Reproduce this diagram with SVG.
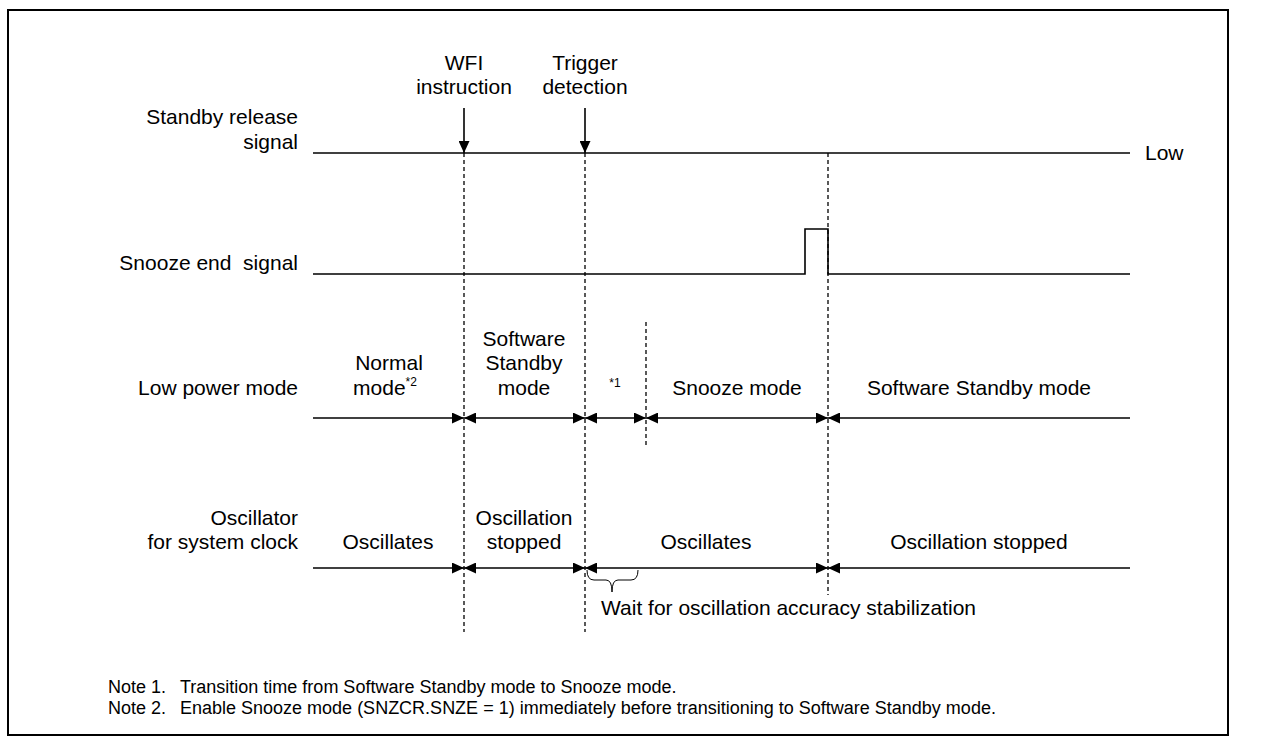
<svg xmlns="http://www.w3.org/2000/svg" width="1282" height="744" viewBox="0 0 1282 744">
<defs>
<style>
text{font-family:"Liberation Sans",Arial,sans-serif;fill:#000;white-space:pre;}
.t{font-size:21px;}
.n{font-size:18px;}
.s{font-size:12px;}
.m{text-anchor:middle;}
.e{text-anchor:end;}
.ln{stroke:#000;stroke-width:1.6;fill:none;}
.d{stroke:#000;stroke-width:1.3;stroke-dasharray:4,3;fill:none;}
</style>
<marker id="ah" viewBox="0 0 12 11" refX="12" refY="5.5" markerWidth="12" markerHeight="11" markerUnits="userSpaceOnUse" orient="auto-start-reverse">
<path d="M0,0 L12,5.5 L0,11 Z" fill="#000"/>
</marker>
</defs>
<rect x="8" y="10" width="1220" height="725" fill="#fff" stroke="#000" stroke-width="2"/>

<g id="labels">
<text class="t e" x="298" y="124">Standby release</text>
<text class="t e" x="298" y="149">signal</text>
<text class="t e" x="298" y="270" xml:space="preserve">Snooze end  signal</text>
<text class="t e" x="298" y="395">Low power mode</text>
<text class="t e" x="298" y="525">Oscillator</text>
<text class="t e" x="298" y="549">for system clock</text>
</g>

<g id="events">
<text class="t m" x="464" y="70">WFI</text>
<text class="t m" x="464" y="94">instruction</text>
<text class="t m" x="585" y="70">Trigger</text>
<text class="t m" x="585" y="94">detection</text>
</g>

<g id="standby-release">
<text class="t" x="1145" y="160">Low</text>
</g>

<g id="mode-labels">
<text class="t m" x="389" y="370">Normal</text>
<text class="t m" x="385" y="395">mode<tspan class="s" dy="-9">*2</tspan></text>
<text class="t m" x="524" y="346">Software</text>
<text class="t m" x="524" y="370">Standby</text>
<text class="t m" x="524" y="395">mode</text>
<text class="s m" x="615" y="387">*1</text>
<text class="t m" x="737" y="395">Snooze mode</text>
<text class="t m" x="979" y="395">Software Standby mode</text>
</g>

<g id="osc-labels">
<text class="t m" x="388" y="549">Oscillates</text>
<text class="t m" x="524" y="525">Oscillation</text>
<text class="t m" x="524" y="549">stopped</text>
<text class="t m" x="706" y="549">Oscillates</text>
<text class="t m" x="979" y="549">Oscillation stopped</text>
<text class="t" x="601" y="615">Wait for oscillation accuracy stabilization</text>
</g>

<g id="notes">
<text class="n" x="108" y="693">Note 1.</text>
<text class="n" x="180" y="693">Transition time from Software Standby mode to Snooze mode.</text>
<text class="n" x="108" y="714">Note 2.</text>
<text class="n" x="180" y="714">Enable Snooze mode (SNZCR.SNZE = 1) immediately before transitioning to Software Standby mode.</text>
</g>

<g id="connectors">
<line class="ln" x1="313" y1="153" x2="1130" y2="153"/>
<line class="ln" x1="464" y1="108" x2="464" y2="153" marker-end="url(#ah)"/>
<line class="ln" x1="585" y1="108" x2="585" y2="153" marker-end="url(#ah)"/>
<polyline class="ln" points="313,274 805,274 805,229 828,229 828,274 1130,274"/>
<line class="d" x1="464" y1="153" x2="464" y2="632"/>
<line class="d" x1="585" y1="153" x2="585" y2="632"/>
<line class="d" x1="828" y1="153" x2="828" y2="595"/>
<line class="d" x1="646" y1="322" x2="646" y2="447"/>
<line class="ln" x1="313" y1="418" x2="464" y2="418" marker-end="url(#ah)"/>
<line class="ln" x1="464" y1="418" x2="585" y2="418" marker-start="url(#ah)" marker-end="url(#ah)"/>
<line class="ln" x1="585" y1="418" x2="646" y2="418" marker-start="url(#ah)" marker-end="url(#ah)"/>
<line class="ln" x1="646" y1="418" x2="828" y2="418" marker-start="url(#ah)" marker-end="url(#ah)"/>
<line class="ln" x1="828" y1="418" x2="1130" y2="418" marker-start="url(#ah)"/>
<line class="ln" x1="313" y1="568" x2="464" y2="568" marker-end="url(#ah)"/>
<line class="ln" x1="464" y1="568" x2="585" y2="568" marker-start="url(#ah)" marker-end="url(#ah)"/>
<line class="ln" x1="585" y1="568" x2="828" y2="568" marker-start="url(#ah)" marker-end="url(#ah)"/>
<line class="ln" x1="828" y1="568" x2="1130" y2="568" marker-start="url(#ah)"/>
<path d="M587,570 Q587,580 594,580 L606,580 Q612,580 612,592 Q612,580 618,580 L631,580 Q638,580 638,570" fill="none" stroke="#000" stroke-width="1"/>
</g>
</svg>
